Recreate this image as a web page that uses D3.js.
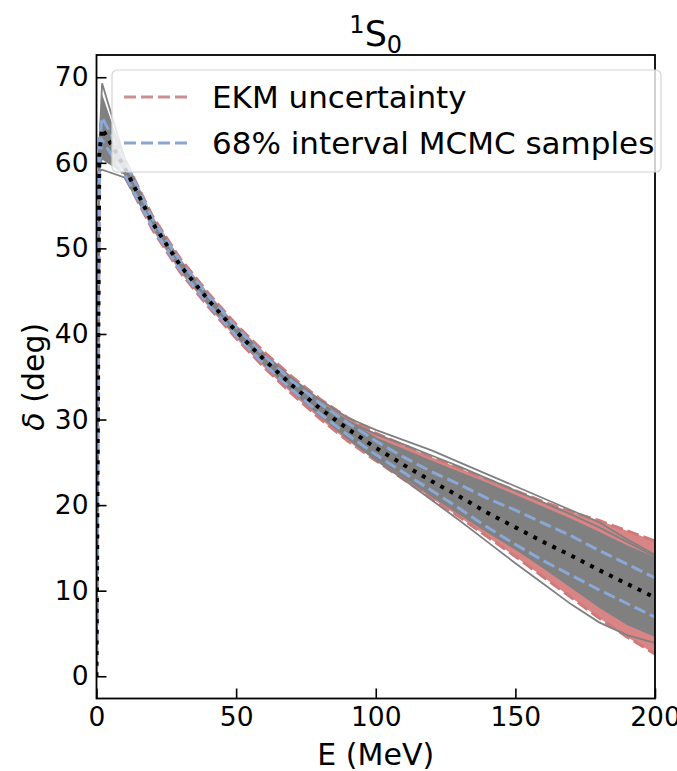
<!DOCTYPE html>
<html>
<head>
<meta charset="utf-8">
<script src="https://cdn.jsdelivr.net/npm/d3@7"></script>
<style>
  body { margin: 0; background: #fff; }
  text { font-family: "DejaVu Sans", sans-serif; fill: #000; }
</style>
</head>
<body>
<script>
// Energy grid (MeV)
var energies = [0, 1, 2, 10, 20, 30, 40, 50, 60, 70, 80, 90, 100, 110, 120, 130, 140, 150, 160, 170, 180, 190, 200];

// Median phase shift (black dotted)
var median = [0, 61, 64, 59.5, 53.0, 48.0, 44.0, 40.3, 37.0, 34.0, 31.3, 28.9, 26.7, 24.7, 22.8, 21.0, 19.1, 17.4, 15.7, 14.1, 12.4, 10.8, 9.2];

// EKM uncertainty band
var ekmHi = [0, 62.5, 65.5, 60.5, 53.8, 48.8, 44.8, 41.1, 37.9, 35.0, 32.4, 30.2, 28.4, 27.0, 25.6, 24.3, 23.0, 21.7, 20.4, 19.2, 18.2, 17.0, 15.8];
var ekmLo = [0, 59.5, 62.5, 58.5, 52.2, 47.2, 43.2, 39.5, 36.1, 33.0, 30.1, 27.5, 25.2, 23.0, 20.8, 18.6, 16.3, 14.0, 11.6, 9.2, 6.8, 4.6, 2.6];

// 68% interval of MCMC samples
var blueHi = [0, 62.3, 65.3, 60.3, 53.5, 48.5, 44.5, 40.8, 37.5, 34.5, 31.9, 29.6, 27.5, 25.6, 23.9, 22.4, 20.8, 19.4, 17.9, 16.4, 14.7, 13.1, 11.5];
var blueLo = [0, 59.8, 62.6, 58.7, 52.5, 47.5, 43.5, 39.8, 36.5, 33.5, 30.7, 28.2, 25.9, 23.8, 21.7, 19.6, 17.4, 15.4, 13.5, 11.8, 10.1, 8.5, 6.9];

// dense part of the sample cloud
var coreHi = [0, 62.5, 68.0, 60.3, 53.6, 48.6, 44.6, 40.9, 37.6, 34.7, 32.1, 29.9, 27.9, 26.6, 25.2, 23.9, 22.6, 21.2, 19.8, 18.4, 16.9, 15.3, 13.9];
var coreLo = [0, 59.5, 60.5, 58.6, 52.4, 47.4, 43.4, 39.7, 36.4, 33.3, 30.5, 27.9, 25.4, 23.3, 21.2, 19.1, 17.0, 14.8, 12.6, 10.3, 8.0, 6.0, 4.6];

// individual MCMC sample curves
var samples = [
  [0, 61.5, 66.0, 60.0, 53.4, 48.4, 44.4, 40.8, 37.6, 34.8, 32.3, 30.2, 28.8, 27.6, 26.4, 25.0, 23.6, 22.2, 20.8, 19.4, 18.0, 16.0, 14.2],
  [0, 60.5, 67.5, 60.2, 53.3, 48.3, 44.3, 40.6, 37.4, 34.5, 31.9, 29.8, 28.3, 27.1, 25.8, 24.5, 23.1, 21.7, 20.3, 18.9, 17.4, 15.7, 14.0],
  [0, 59.0, 59.2, 58.3, 52.6, 47.6, 43.6, 39.9, 36.5, 33.4, 30.5, 27.8, 25.3, 23.0, 20.6, 18.2, 15.7, 13.2, 10.8, 8.4, 6.3, 4.8, 3.9],
  [0, 62.0, 69.3, 60.6, 53.5, 48.5, 44.5, 40.8, 37.5, 34.5, 31.8, 29.4, 27.2, 25.3, 23.6, 22.0, 20.4, 18.9, 17.4, 16.0, 14.6, 13.3, 12.0],
  [0, 61.0, 66.8, 60.0, 53.2, 48.1, 44.1, 40.4, 37.1, 34.1, 31.4, 29.0, 26.8, 24.8, 22.8, 20.9, 19.0, 17.1, 15.3, 13.4, 11.6, 9.8, 8.1],
  [0, 60.0, 63.0, 59.0, 52.8, 47.8, 43.8, 40.1, 36.8, 33.7, 30.9, 28.3, 26.0, 23.8, 21.6, 19.6, 17.5, 15.6, 13.7, 11.8, 9.9, 8.0, 6.2],
  [0, 61.5, 65.2, 59.8, 53.1, 48.2, 44.2, 40.5, 37.3, 34.3, 31.7, 29.4, 27.3, 25.5, 23.8, 22.2, 20.6, 19.1, 17.6, 16.2, 14.8, 13.5, 12.4],
  [0, 60.8, 62.0, 59.2, 52.9, 47.9, 43.9, 40.2, 36.9, 33.9, 31.1, 28.6, 26.4, 24.3, 22.3, 20.3, 18.4, 16.5, 14.7, 12.9, 11.1, 9.3, 7.4],
  [0, 59.5, 60.5, 58.8, 52.7, 47.7, 43.7, 40.0, 36.7, 33.6, 30.7, 28.0, 25.6, 23.3, 21.1, 19.0, 16.9, 14.9, 12.9, 10.9, 8.9, 7.0, 5.3],
  [0, 62.0, 67.0, 60.4, 53.4, 48.4, 44.4, 40.7, 37.5, 34.6, 32.0, 29.8, 27.8, 26.0, 24.4, 22.9, 21.4, 19.9, 18.5, 17.1, 15.8, 14.6, 13.5]
];

var xTicks = [0, 50, 100, 150, 200];
var yTicks = [0, 10, 20, 30, 40, 50, 60, 70];
var legendLabels = ["EKM uncertainty", "68% interval MCMC samples"];

var width = 677, height = 771;
var margin = {top: 55, right: 22, bottom: 72.5, left: 96.5};

var svg = d3.select("body").append("svg")
            .attr("width", width)
            .attr("height", height);

var x = d3.scaleLinear().domain([0, 200]).range([margin.left, width - margin.right]);
var y = d3.scaleLinear().domain([-2.6, 72.6]).range([height - margin.bottom, margin.top]);

svg.append("clipPath").attr("id", "clip")
   .append("rect")
   .attr("x", margin.left).attr("y", margin.top)
   .attr("width", x(200) - x(0)).attr("height", y(-2.6) - y(72.6));

var plot = svg.append("g").attr("clip-path", "url(#clip)");

function band(lo, hi) {
  return d3.area()
           .x(function(d, i) { return x(energies[i]); })
           .y0(function(d, i) { return y(lo[i]); })
           .y1(function(d, i) { return y(hi[i]); })(energies);
}
var line = d3.line()
             .x(function(d, i) { return x(energies[i]); })
             .y(function(d) { return y(d); });

// EKM band
plot.append("path")
    .attr("d", band(ekmLo, ekmHi))
    .attr("fill", "#d98585");
[ekmLo, ekmHi].forEach(function(s) {
  plot.append("path")
      .attr("d", line(s))
      .attr("fill", "none")
      .attr("stroke", "#cf7a7a")
      .attr("stroke-width", 3)
      .attr("stroke-dasharray", "12,5");
});

// sample cloud
plot.append("path")
    .attr("d", band(coreLo, coreHi))
    .attr("fill", "#808080");
samples.forEach(function(s) {
  plot.append("path")
      .attr("d", line(s))
      .attr("fill", "none")
      .attr("stroke", "#808080")
      .attr("stroke-width", 1.8);
});

// 68% interval
[blueLo, blueHi].forEach(function(s) {
  plot.append("path")
      .attr("d", line(s))
      .attr("fill", "none")
      .attr("stroke", "#8aa8d6")
      .attr("stroke-width", 3)
      .attr("stroke-dasharray", "12,5");
});

// median
plot.append("path")
    .attr("d", line(median))
    .attr("fill", "none")
    .attr("stroke", "#000")
    .attr("stroke-width", 4)
    .attr("stroke-dasharray", "4,6.6");

// Axes with inward ticks
var xAxis = svg.append("g")
               .attr("transform", "translate(0," + y(-2.6) + ")")
               .call(d3.axisBottom(x).tickValues(xTicks).tickSizeInner(-10).tickSizeOuter(0).tickPadding(9));
var yAxis = svg.append("g")
               .attr("transform", "translate(" + x(0) + ",0)")
               .call(d3.axisLeft(y).tickValues(yTicks).tickSizeInner(-10).tickSizeOuter(0).tickPadding(8));
[xAxis, yAxis].forEach(function(a) {
  a.select(".domain").remove();
  a.selectAll("line").attr("stroke", "#000").attr("stroke-width", 1.6);
  a.selectAll("text").style("font-size", "26.5px").attr("fill", "#000");
});

// Frame
svg.append("rect")
   .attr("x", x(0)).attr("y", y(72.6))
   .attr("width", x(200) - x(0)).attr("height", y(-2.6) - y(72.6))
   .attr("fill", "none")
   .attr("stroke", "#000")
   .attr("stroke-width", 1.8);

// Legend
var legend = svg.append("g").attr("transform", "translate(112,70)");
legend.append("rect")
      .attr("width", 549).attr("height", 102)
      .attr("rx", 5)
      .attr("fill", "#fff").attr("fill-opacity", 0.8)
      .attr("stroke", "#d4d4d4").attr("stroke-width", 1.2);
var legendColors = ["#cc8f8f", "#8aa6d0"];
legend.selectAll(".legendLine")
      .data(legendLabels)
      .enter().append("line")
      .attr("x1", 12).attr("x2", 76)
      .attr("y1", function(d, i) { return 27 + 46 * i; })
      .attr("y2", function(d, i) { return 27 + 46 * i; })
      .attr("stroke", function(d, i) { return legendColors[i]; })
      .attr("stroke-width", 3)
      .attr("stroke-dasharray", "12,5");
legend.selectAll(".legendText")
      .data(legendLabels)
      .enter().append("text")
      .attr("x", 100)
      .attr("y", function(d, i) { return 38 + 46 * i; })
      .style("font-size", "31px")
      .text(function(d) { return d; });

// Title
var title = svg.append("text")
               .attr("x", (x(0) + x(200)) / 2)
               .attr("y", 46)
               .attr("text-anchor", "middle")
               .style("font-size", "35px");
title.append("tspan").attr("dy", "-13").style("font-size", "24px").text("1");
title.append("tspan").attr("dy", "13").text("S");
title.append("tspan").attr("dy", "7").style("font-size", "24px").text("0");

// Axis labels
svg.append("text")
   .attr("x", (x(0) + x(200)) / 2)
   .attr("y", 765)
   .attr("text-anchor", "middle")
   .style("font-size", "30px")
   .text("E (MeV)");

var yl = svg.append("text")
            .attr("transform", "translate(44," + (y(-2.6) + y(72.6)) / 2 + ") rotate(-90)")
            .attr("text-anchor", "middle")
            .style("font-size", "30px");
yl.append("tspan").style("font-style", "italic").text("δ");
yl.append("tspan").text(" (deg)");
</script>
</body>
</html>
